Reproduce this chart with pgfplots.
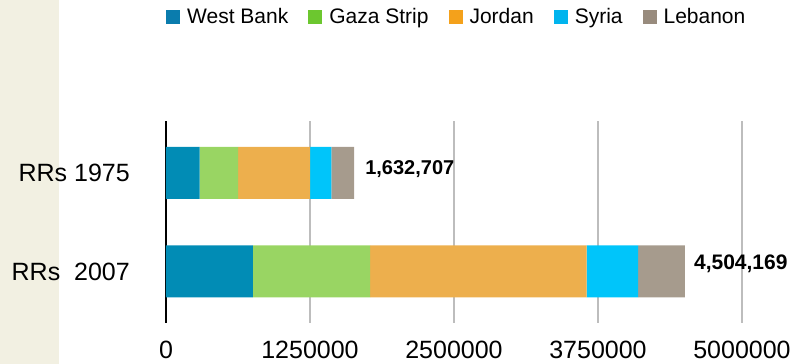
\documentclass[border=0pt]{standalone}
\usepackage{pgfplots}
\pgfplotsset{compat=1.18}
\usepackage{fontspec}
\setmainfont{Liberation Sans}
\definecolor{beige}{HTML}{F2F0E2}
\definecolor{wb}{HTML}{018CB5}
\definecolor{gz}{HTML}{99D563}
\definecolor{jo}{HTML}{EDAF4D}
\definecolor{sy}{HTML}{00C5FA}
\definecolor{le}{HTML}{A69B8D}
\definecolor{wbL}{HTML}{0A7CAD}
\definecolor{gzL}{HTML}{6CC72F}
\definecolor{joL}{HTML}{F4A11B}
\definecolor{syL}{HTML}{00B4EE}
\definecolor{leL}{HTML}{988B7D}
\definecolor{gridc}{HTML}{BDBDBD}
\begin{document}
\begin{tikzpicture}[x=1pt,y=1pt]
\useasboundingbox (0,0) rectangle (804,364);
\fill[beige] (0,0) rectangle (59,364);
\begin{axis}[
  at={(166pt,41pt)}, anchor=south west,
  scale only axis, width=576pt, height=202pt,
  xbar stacked, bar width=52pt,
  xmin=0, xmax=5000000,
  ymin=-0.523, ymax=1.528,
  clip=false,
  axis line style={draw=none},
  major tick length=0pt,
  xtick={1250000,2500000,3750000,5000000},
  xticklabels={1250000,2500000,3750000,5000000},
  extra x ticks={0}, extra x tick labels={0},
  extra x tick style={grid style={black, line width=2.5pt}},
  xmajorgrids, grid style={gridc, line width=2.5pt},
  ytick={0,1}, yticklabels={{RRs\ \ 2007},{RRs 1975}},
  tick label style={font=\fontsize{25}{30}\selectfont},
  xticklabel style={inner sep=0pt, anchor=north, text depth=0pt, text height=18pt, yshift=-17pt},
  yticklabel style={inner sep=0pt, anchor=east, xshift=-36pt},
  /pgf/number format/assume math mode=true,
  legend columns=-1,
  legend style={draw=none, fill=none, at={(rel axis cs:0,1.5148)}, anchor=west,
    font=\fontsize{21}{25}\selectfont, inner sep=0pt,
    nodes={inner sep=0pt},
    /tikz/every odd column/.append style={column sep=7pt},
    /tikz/every even column/.append style={column sep=20pt}},
]
\addplot[fill=wb, draw=none, legend image code/.code={\fill[wbL] (0pt,-7pt) rectangle (14pt,7pt);}] coordinates {(754263,0) (292922,1)};
\addplot[fill=gz, draw=none, legend image code/.code={\fill[gzL] (0pt,-7pt) rectangle (14pt,7pt);}] coordinates {(1016964,0) (333031,1)};
\addplot[fill=jo, draw=none, legend image code/.code={\fill[joL] (0pt,-7pt) rectangle (14pt,7pt);}] coordinates {(1880740,0) (625857,1)};
\addplot[fill=sy, draw=none, legend image code/.code={\fill[syL] (0pt,-7pt) rectangle (14pt,7pt);}] coordinates {(446925,0) (184042,1)};
\addplot[fill=le, draw=none, legend image code/.code={\fill[leL] (0pt,-7pt) rectangle (14pt,7pt);}] coordinates {(405277,0) (196855,1)};
\legend{West Bank, Gaza Strip, Jordan, Syria, Lebanon}
\node[anchor=west, font=\fontsize{20}{24}\selectfont\bfseries, inner sep=0pt, xshift=11pt, yshift=4pt] at (axis cs:1632707,1) {1,632,707};
\node[anchor=west, font=\fontsize{21}{24}\selectfont\bfseries, inner sep=0pt, xshift=9pt, yshift=8pt] at (axis cs:4504169,0) {4,504,169};
\end{axis}
\end{tikzpicture}
\end{document}
